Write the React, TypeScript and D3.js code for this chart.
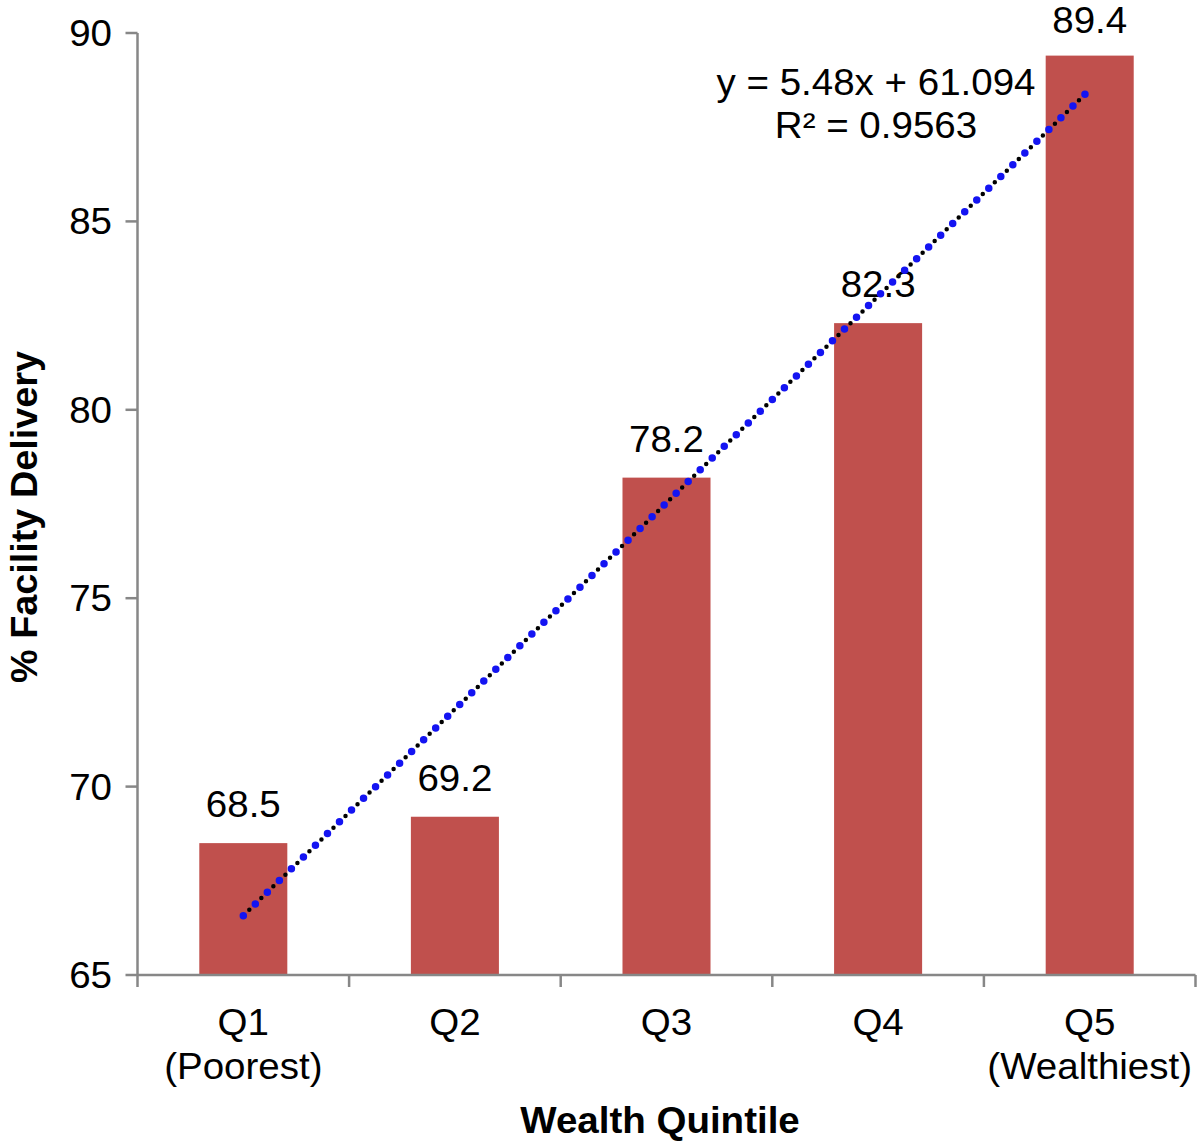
import React from "react";
import * as d3 from "d3";

// chart data
const categories = ["Q1", "Q2", "Q3", "Q4", "Q5"];
const subLabels = ["(Poorest)", "", "", "", "(Wealthiest)"];
const values = [68.5, 69.2, 78.2, 82.3, 89.4];
const yTicks = [65, 70, 75, 80, 85, 90];
const trendSlope = 5.48;
const trendIntercept = 61.094;
const trendLabel = ["y = 5.48x + 61.094", "R² = 0.9563"];

const width = 1200;
const height = 1145;
const margin = { top: 33, right: 4.5, bottom: 170, left: 137.5 };
const font = "'Liberation Sans', Arial, Helvetica, sans-serif";
const axisColor = "#878787";
const stretch = 1.07; // glyphs in the source are a bit wider than Arial

// text placed at (x, y) with a slight horizontal stretch
const T = ({
  x,
  y,
  anchor = "middle",
  bold = false,
  dy,
  children,
}: {
  x: number;
  y: number;
  anchor?: string;
  bold?: boolean;
  dy?: string;
  children: React.ReactNode;
}) => (
  <g transform={`translate(${x},${y}) scale(${stretch},1)`}>
    <text
      textAnchor={anchor}
      fontSize={36}
      dy={dy}
      fontWeight={bold ? "bold" : "normal"}
      fill="#000"
    >
      {children}
    </text>
  </g>
);

export default function App() {
  const x = d3
    .scaleBand<string>()
    .domain(categories)
    .range([margin.left, width - margin.right])
    .paddingInner(0.584)
    .paddingOuter(0.292);

  const y = d3
    .scaleLinear()
    .domain([65, 90])
    .range([height - margin.bottom, margin.top]);

  const step = x.step();
  const baseY = y(65);
  const cx = (c: string) => (x(c) as number) + x.bandwidth() / 2;

  // trendline in index space (1..5) -> band centers
  const xi = d3
    .scaleLinear()
    .domain([1, categories.length])
    .range([cx(categories[0]), cx(categories[categories.length - 1])]);
  const trendPts: [number, number][] = [1, categories.length].map((i) => [
    xi(i),
    y(trendSlope * i + trendIntercept),
  ]);
  const trendPath = d3.line()(trendPts) as string;

  const tickEdges = d3
    .range(categories.length + 1)
    .map((i) => margin.left + i * step);

  return (
    <svg
      width={width}
      height={height}
      style={{ position: "absolute", left: 0, top: 0, background: "#fff" }}
      fontFamily={font}
    >
      {/* bars */}
      {categories.map((c, i) => (
        <rect
          key={c}
          x={x(c)}
          y={y(values[i])}
          width={x.bandwidth()}
          height={baseY - y(values[i])}
          fill="#C0504D"
        />
      ))}

      {/* data labels */}
      {categories.map((c, i) => (
        <T key={"l" + c} x={cx(c)} y={Math.max(y(values[i]) - 26, 33)}>
          {values[i].toFixed(1)}
        </T>
      ))}

      {/* axes */}
      <line
        x1={margin.left}
        x2={margin.left}
        y1={margin.top}
        y2={baseY}
        stroke={axisColor}
        strokeWidth={2.5}
      />
      {yTicks.map((t) => (
        <g key={t}>
          <line
            x1={margin.left - 12}
            x2={margin.left}
            y1={y(t)}
            y2={y(t)}
            stroke={axisColor}
            strokeWidth={2.5}
          />
          <T x={112} y={y(t)} dy="0.36em" anchor="end">
            {t}
          </T>
        </g>
      ))}
      <line
        x1={margin.left}
        x2={width - margin.right}
        y1={baseY}
        y2={baseY}
        stroke={axisColor}
        strokeWidth={2.5}
      />
      {tickEdges.map((tx, i) => (
        <line
          key={"xt" + i}
          x1={tx}
          x2={tx}
          y1={baseY}
          y2={baseY + 12}
          stroke={axisColor}
          strokeWidth={2.5}
        />
      ))}

      {/* category labels */}
      {categories.map((c, i) => (
        <g key={"c" + c}>
          <T x={cx(c)} y={1035}>
            {c}
          </T>
          {subLabels[i] && (
            <T x={Math.min(cx(c), 1094)} y={1079}>
              {subLabels[i]}
            </T>
          )}
        </g>
      ))}

      {/* trendline: blue + black dots */}
      <path
        d={trendPath}
        fill="none"
        stroke="#000"
        strokeWidth={4.5}
        strokeLinecap="round"
        strokeDasharray="0 8.4"
        strokeDashoffset={-8.4}
      />
      <path
        d={trendPath}
        fill="none"
        stroke="#1414F2"
        strokeWidth={7.5}
        strokeLinecap="round"
        strokeDasharray="0 16.8"
      />

      {/* trend equation */}
      <T x={876} y={95}>
        {trendLabel[0]}
      </T>
      <T x={876} y={138}>
        {trendLabel[1]}
      </T>

      {/* axis titles */}
      <T x={660} y={1133} bold>
        Wealth Quintile
      </T>
      <g transform="translate(37,517) rotate(-90) scale(1.05,1)">
        <text textAnchor="middle" fontSize={36} fontWeight="bold">
          % Facility Delivery
        </text>
      </g>
    </svg>
  );
}
